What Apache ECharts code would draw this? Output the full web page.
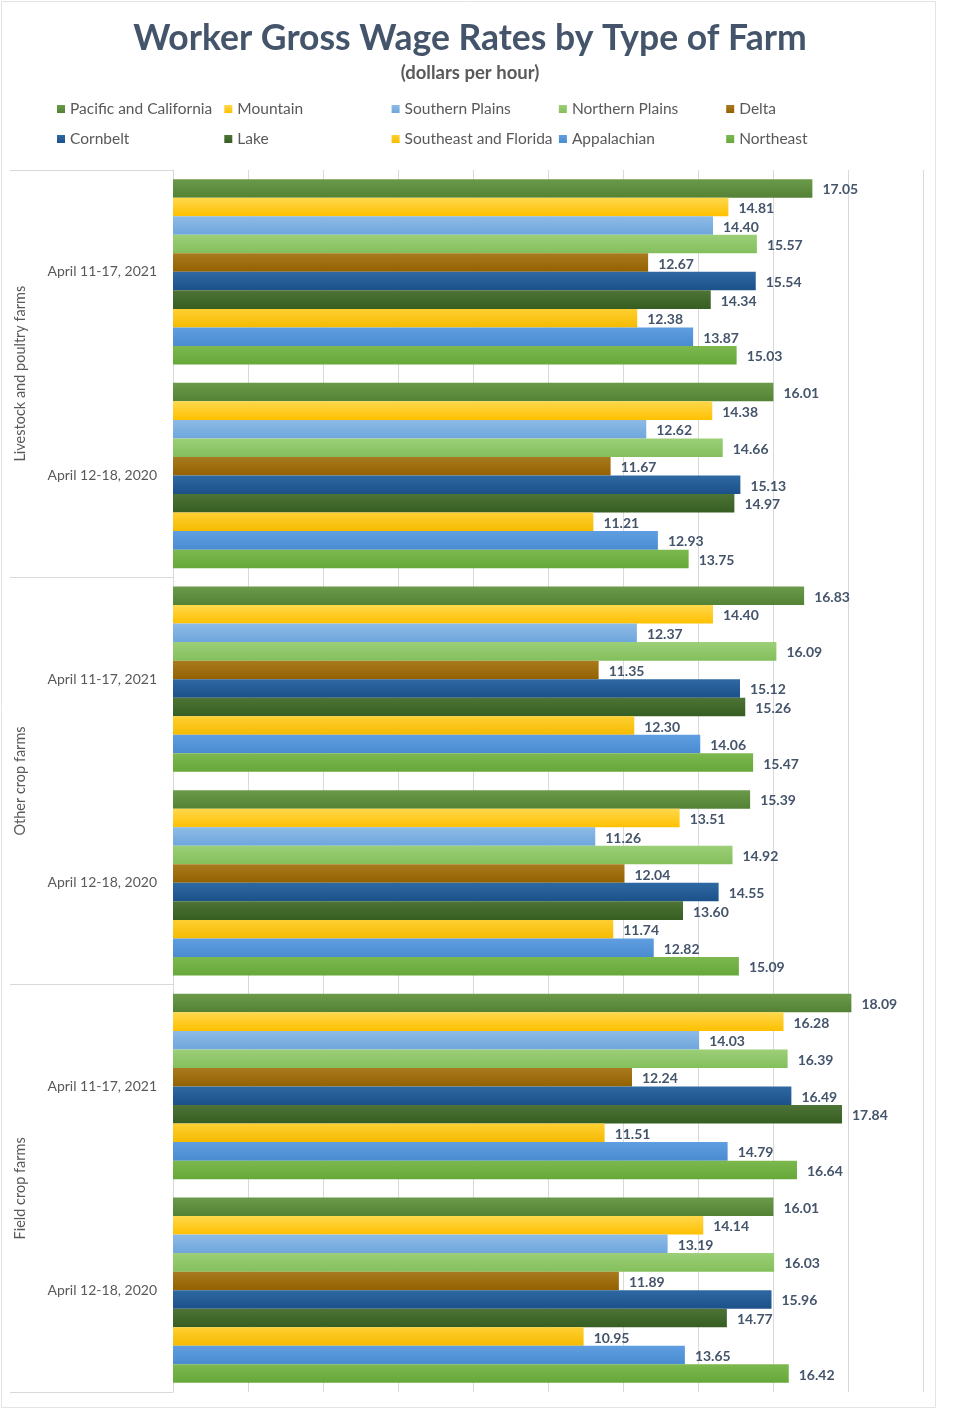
<!DOCTYPE html>
<html>
<head>
<meta charset="utf-8">
<script src="https://cdn.jsdelivr.net/npm/echarts@6/dist/echarts.min.js"></script>
<style>html,body{margin:0;padding:0;background:#fff}#c{width:960px;height:1410px}</style>
</head>
<body>
<div id="c"></div>
<script>
// Categories (top to bottom)
const dateLabels = ["April 11-17, 2021","April 12-18, 2020","April 11-17, 2021","April 12-18, 2020","April 11-17, 2021","April 12-18, 2020"];
const farmGroups = ["Livestock and poultry farms","Other crop farms","Field crop farms"];
const regionNames = ["Pacific and California","Mountain","Southern Plains","Northern Plains","Delta","Cornbelt","Lake","Southeast and Florida","Appalachian","Northeast"];

// Series values, one per region, across the 6 categories
const pacificCalifornia = [17.05, 16.01, 16.83, 15.39, 18.09, 16.01];
const mountain          = [14.81, 14.38, 14.40, 13.51, 16.28, 14.14];
const southernPlains    = [14.40, 12.62, 12.37, 11.26, 14.03, 13.19];
const northernPlains    = [15.57, 14.66, 16.09, 14.92, 16.39, 16.03];
const delta             = [12.67, 11.67, 11.35, 12.04, 12.24, 11.89];
const cornbelt          = [15.54, 15.13, 15.12, 14.55, 16.49, 15.96];
const lake              = [14.34, 14.97, 15.26, 13.60, 17.84, 14.77];
const southeastFlorida  = [12.38, 11.21, 12.30, 11.74, 11.51, 10.95];
const appalachian       = [13.87, 12.93, 14.06, 12.82, 14.79, 13.65];
const northeast         = [15.03, 13.75, 15.47, 15.09, 16.64, 16.42];

const seriesValues = [pacificCalifornia, mountain, southernPlains, northernPlains, delta, cornbelt, lake, southeastFlorida, appalachian, northeast];

const palette = [
  ["#6a9a4a","#548235"],
  ["#ffd84d","#ffc000"],
  ["#8dbbe6","#6fa6dc"],
  ["#9ccf78","#84bf5c"],
  ["#a87a1f","#946100"],
  ["#2e69a3","#1c5089"],
  ["#4d7336","#375e22"],
  ["#ffcf33","#f5bb00"],
  ["#5f9ee0","#4a8bd1"],
  ["#7cb84e","#66a83a"]
];

const font = "Lato";
function grad(c){
  return new echarts.graphic.LinearGradient(0,0,0,1,[{offset:0,color:c[0]},{offset:1,color:c[1]}]);
}

const series = regionNames.map((name,i)=>({
  name: name,
  type: 'bar',
  yAxisIndex: 0,
  data: seriesValues[i],
  barGap: '0%',
  barCategoryGap: '9%',
  itemStyle: { color: grad(palette[i]) },
  label: {
    show: true, position: 'right', distance: 10, offset: [0, 1.5],
    formatter: p => p.value.toFixed(2),
    fontFamily: font, fontWeight: 'bold', fontSize: 14, color: '#44546a'
  }
}));

// one legend per item, laid out in a 5-column grid
const legends = regionNames.map((name,i)=>({
  data: [name],
  left: 57 + (i % 5) * 167.3,
  top: 101 + Math.floor(i / 5) * 30,
  padding: 0,
  icon: 'rect', itemWidth: 8, itemHeight: 8,
  textStyle: { fontFamily: font, fontSize: 15.5, color: '#595959' }
}));

const chart = echarts.init(document.getElementById('c'), null, {renderer:'canvas'});
chart.setOption({
  backgroundColor: '#ffffff',
  animation: false,
  title: {
    text: 'Worker Gross Wage Rates by Type of Farm',
    subtext: '(dollars per hour)',
    left: 470, textAlign: 'center', top: 21, padding: 0, itemGap: 7,
    textStyle: { fontFamily: font, fontWeight: 'bold', fontSize: 35.5, color: '#44546a' },
    subtextStyle: { fontFamily: font, fontWeight: 'bold', fontSize: 18.5, color: '#595959' }
  },
  legend: legends,
  grid: { left: 173, right: 37, top: 170, bottom: 18, containLabel: false },
  xAxis: {
    type: 'value', min: 0, max: 20, interval: 2,
    axisLabel: { show: false }, axisLine: { show: false }, axisTick: { show: false },
    splitLine: { lineStyle: { color: '#d9d9d9', width: 1 } }
  },
  yAxis: [
    {
      type: 'category', data: dateLabels, inverse: true, position: 'left',
      axisLine: { show: true, lineStyle: { color: '#d9d9d9' } },
      axisTick: { show: false },
      axisLabel: { margin: 16, fontFamily: font, fontSize: 14, color: '#595959' }
    },
    {
      type: 'category', data: farmGroups, inverse: true, position: 'left', offset: 0,
      axisLine: { show: false },
      axisTick: { show: true, length: 163, lineStyle: { color: '#d9d9d9' } },
      axisLabel: { rotate: 90, margin: 145, fontFamily: font, fontSize: 14.5, color: '#595959' }
    }
  ],
  graphic: [
    { type: 'rect', shape: { x: 1.5, y: 1.5, width: 934, height: 1406 }, style: { fill: 'none', stroke: '#e3e3e3', lineWidth: 1 }, silent: true, z: -1 }
  ],
  series: series
});
</script>
</body>
</html>
